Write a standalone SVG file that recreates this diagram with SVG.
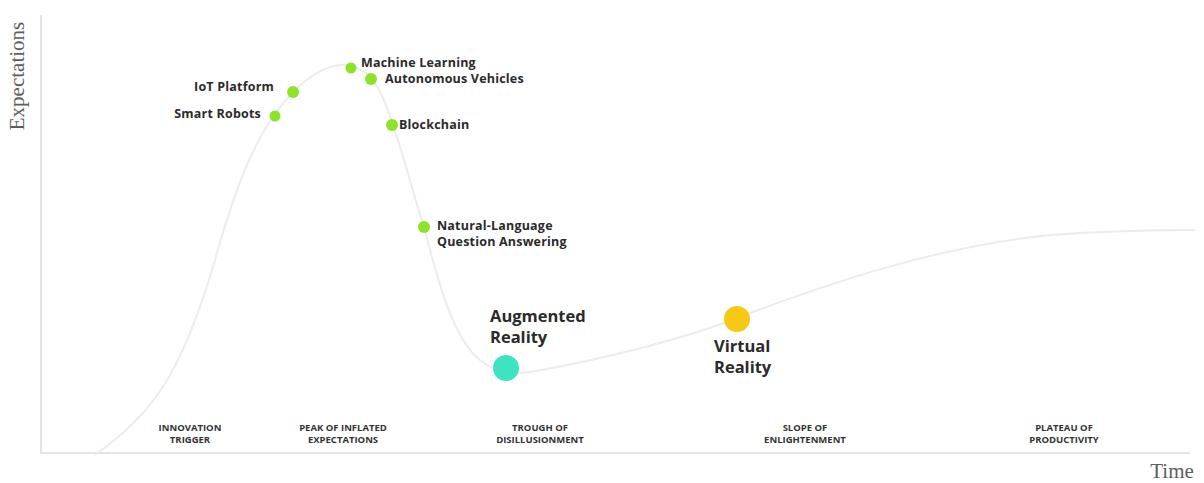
<svg xmlns="http://www.w3.org/2000/svg" width="1204" height="483" viewBox="0 0 1204 483">
  <style>
    .axis { stroke: #e4e4e4; stroke-width: 2; fill: none; }
    .curve { stroke: #ececec; stroke-width: 2; fill: none; }
    .axis-title { font-family: "Liberation Serif", "DejaVu Serif", serif; font-size: 21px; fill: #5e5e5e; }
    .tech { font-family: "Open Sans", "Liberation Sans", sans-serif; font-weight: 700; font-size: 12.5px; letter-spacing: 0.2px; fill: #2a2a2a; }
    .tech-lg { font-family: "Open Sans", "Liberation Sans", sans-serif; font-weight: 700; font-size: 16.5px; fill: #2a2a2a; }
    .phase { font-family: "Open Sans", "Liberation Sans", sans-serif; font-weight: 700; font-size: 9.5px; fill: #333; text-anchor: middle; }
    .dot { fill: #8ee22e; }
  </style>

  <rect width="1204" height="483" fill="#ffffff"/>

  <!-- axes and hype curve -->
  <g id="connectors">
    <path class="axis" d="M 41 15 V 453 H 1190"/>
    <path class="curve" d="M 95 455 C 150 415, 180 380, 215 260 C 240 170, 262 124, 293 92 C 315 70, 335 62, 352 66 C 375 72, 385 100, 393 125 C 405 160, 415 200, 424 227 C 440 290, 455 340, 480 360 C 495 372, 510 375, 530 372 C 600 360, 680 340, 737 318 C 850 275, 950 245, 1050 235 C 1120 230, 1170 230, 1195 230"/>
  </g>

  <g id="axis-labels">
    <text class="axis-title" transform="translate(24 76) rotate(-90)" text-anchor="middle">Expectations</text>
    <text class="axis-title" x="1172" y="478" text-anchor="middle">Time</text>
  </g>

  <g id="smart-robots">
    <circle class="dot" cx="275" cy="116" r="5.5"/>
    <text class="tech" x="261" y="118" text-anchor="end">Smart Robots</text>
  </g>
  <g id="iot-platform">
    <circle class="dot" cx="293" cy="92" r="6"/>
    <text class="tech" x="274" y="91" text-anchor="end">IoT Platform</text>
  </g>
  <g id="machine-learning">
    <circle class="dot" cx="351" cy="68" r="5.5"/>
    <text class="tech" x="361" y="67">Machine Learning</text>
  </g>
  <g id="autonomous-vehicles">
    <circle class="dot" cx="371" cy="79" r="6"/>
    <text class="tech" x="385" y="83">Autonomous Vehicles</text>
  </g>
  <g id="blockchain">
    <circle class="dot" cx="392" cy="125" r="6"/>
    <text class="tech" x="399" y="129">Blockchain</text>
  </g>
  <g id="nlqa">
    <circle class="dot" cx="424" cy="227" r="6"/>
    <text class="tech" x="437" y="230">Natural-Language</text>
    <text class="tech" x="437" y="246">Question Answering</text>
  </g>
  <g id="augmented-reality">
    <circle cx="506" cy="368" r="13" fill="#3ee3c0"/>
    <text class="tech-lg" x="490" y="322">Augmented</text>
    <text class="tech-lg" x="490" y="343">Reality</text>
  </g>
  <g id="virtual-reality">
    <circle cx="737" cy="319" r="13" fill="#f7c816"/>
    <text class="tech-lg" x="714" y="352">Virtual</text>
    <text class="tech-lg" x="714" y="373">Reality</text>
  </g>

  <g id="phases">
    <text class="phase" x="190" y="431">INNOVATION<tspan x="190" dy="12">TRIGGER</tspan></text>
    <text class="phase" x="343" y="431">PEAK OF INFLATED<tspan x="343" dy="12">EXPECTATIONS</tspan></text>
    <text class="phase" x="540" y="431">TROUGH OF<tspan x="540" dy="12">DISILLUSIONMENT</tspan></text>
    <text class="phase" x="805" y="431">SLOPE OF<tspan x="805" dy="12">ENLIGHTENMENT</tspan></text>
    <text class="phase" x="1064" y="431">PLATEAU OF<tspan x="1064" dy="12">PRODUCTIVITY</tspan></text>
  </g>
</svg>
